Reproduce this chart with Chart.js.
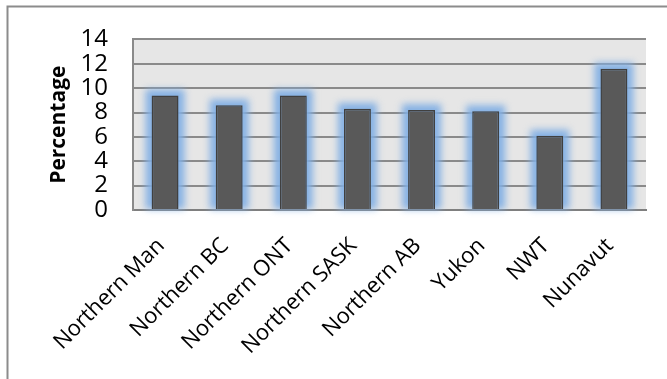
<!DOCTYPE html>
<html>
<head>
<meta charset="utf-8">
<script src="https://cdn.jsdelivr.net/npm/chart.js@4/dist/chart.umd.min.js"></script>
<style>
  body { margin: 0; background: #fff; }
</style>
</head>
<body>
<canvas id="Bar" width="667" height="379"></canvas>
<script>
const regions = ["Northern Man", "Northern BC", "Northern ONT", "Northern SASK", "Northern AB", "Yukon", "NWT", "Nunavut"];
const percentages = [9.4, 8.6, 9.4, 8.3, 8.2, 8.1, 6.1, 11.6];
const yTicks = [0, 2, 4, 6, 8, 10, 12, 14];

// grey plot area + the outer frame of the chart object
const backdrop = {
  id: "backdrop",
  beforeDraw(chart) {
    const { ctx, chartArea: a } = chart;
    ctx.save();
    ctx.fillStyle = "#fff";
    ctx.fillRect(0, 0, chart.width, chart.height);
    ctx.strokeStyle = "#8c8c8c";
    ctx.lineWidth = 2;
    ctx.beginPath();
    ctx.moveTo(7.5, chart.height);
    ctx.lineTo(7.5, 6.5);
    ctx.lineTo(chart.width, 6.5);
    ctx.stroke();
    ctx.fillStyle = "#e6e6e6";
    ctx.fillRect(a.left, a.top, a.right - a.left, a.bottom - a.top);
    ctx.restore();
  },
};

// soft blue glow round the bars, drawn from the bar elements
const glow = {
  id: "glow",
  beforeDatasetsDraw(chart) {
    const ctx = chart.ctx;
    const bars = chart.getDatasetMeta(0).data;
    ctx.save();
    ctx.filter = "blur(3.5px)";
    ctx.fillStyle = "rgba(130,175,228,0.95)";
    bars.forEach(b => {
      const w = b.width + 12;
      ctx.fillRect(b.x - w / 2, b.y - 6, w, b.base - b.y + 6);
    });
    ctx.restore();
  },
};

const ctx = document.getElementById("Bar").getContext("2d");
new Chart(ctx, {
  type: "bar",
  data: {
    labels: regions,
    datasets: [
      {
        label: "Percentage",
        data: percentages,
        backgroundColor: "#595959",
        borderColor: "#404040",
        borderWidth: 1.5,
        barPercentage: 0.42,
        categoryPercentage: 1,
      },
    ],
  },
  options: {
    responsive: false,
    animation: false,
    layout: { padding: { top: 36, right: 21, left: 0, bottom: 0 } },
    plugins: { legend: { display: false }, tooltip: { enabled: false } },
    scales: {
      x: {
        grid: { display: false },
        border: { display: true, color: "#7f7f7f", width: 2 },
        ticks: {
          color: "#000",
          font: { family: "Open Sans", size: 22 },
          minRotation: 45,
          maxRotation: 45,
          padding: 15,
          labelOffset: -4,
          autoSkip: false,
        },
        afterFit(scale) { scale.height = 169; },
      },
      y: {
        min: 0,
        max: 14,
        afterBuildTicks(scale) { scale.ticks = yTicks.map(v => ({ value: v })); },
        grid: { color: "#8a8a8a", lineWidth: 2, drawTicks: false },
        border: { display: true, color: "#8a8a8a", width: 2 },
        ticks: {
          color: "#000",
          font: { family: "Open Sans", size: 24 },
          padding: 25,
          autoSkip: false,
        },
        title: {
          display: true,
          text: "Percentage",
          color: "#000",
          font: { family: "Open Sans", size: 21, weight: "bold" },
          padding: { top: 46, bottom: 0 },
        },
        afterFit(scale) { scale.width = 133; },
      },
    },
  },
  plugins: [backdrop, glow],
});
</script>
</body>
</html>
